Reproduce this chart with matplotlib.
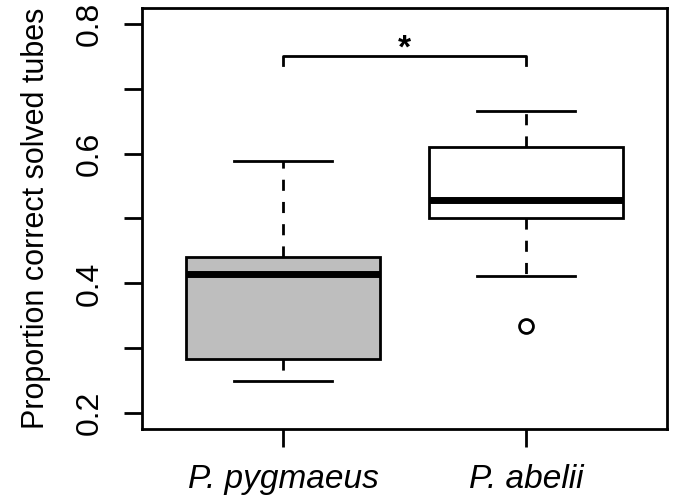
import matplotlib
matplotlib.use("Agg")
import matplotlib.pyplot as plt

plt.rcParams['font.family'] = ['Liberation Sans', 'DejaVu Sans']

species = ["P. pygmaeus", "P. abelii"]
whisker_lo = [0.25, 0.411]
q1 = [0.283, 0.50]
medians = [0.415, 0.529]
q3 = [0.44, 0.61]
whisker_hi = [0.588, 0.665]
outliers = [[], [0.334]]
box_colors = ["#BEBEBE", "white"]
bracket_y = 0.75
sig_label = "*"

stats = []
for i in range(len(species)):
    stats.append({
        "whislo": whisker_lo[i], "q1": q1[i], "med": medians[i],
        "q3": q3[i], "whishi": whisker_hi[i], "fliers": outliers[i],
    })

fig = plt.figure(figsize=(6.75, 4.99), dpi=100)
ax = fig.add_axes([0.2104, 0.1403, 0.7776, 0.8437])

bp = ax.bxp(stats, positions=[1, 2], widths=0.8, patch_artist=True,
            showfliers=True,
            boxprops=dict(linewidth=2, edgecolor="black"),
            medianprops=dict(linewidth=5, color="black", solid_capstyle="butt"),
            whiskerprops=dict(linewidth=2, linestyle=(0, (4, 4)), color="black"),
            capprops=dict(linewidth=2, color="black"),
            capwidths=0.4,
            flierprops=dict(marker="o", markersize=10, markerfacecolor="none",
                            markeredgecolor="black", markeredgewidth=2))
for patch, c in zip(bp["boxes"], box_colors):
    patch.set_facecolor(c)

# significance bracket
ax.plot([1, 1, 2, 2], [bracket_y - 0.013, bracket_y, bracket_y, bracket_y - 0.013],
        color="black", lw=2)
ax.text(1.5, bracket_y - 0.012, sig_label, ha="center", va="bottom", fontsize=24,
        fontweight="bold")

ax.set_xlim(0.42, 2.58)
ax.set_ylim(0.1754, 0.8246)
ax.set_yticks([0.2, 0.3, 0.4, 0.5, 0.6, 0.7, 0.8])
ax.set_yticklabels(["0.2", "", "0.4", "", "0.6", "", "0.8"], rotation=90, va="center")
ax.set_xticks([1, 2])
ax.set_xticklabels(species, fontstyle="italic", fontsize=24)
ax.tick_params(axis="y", labelsize=23, length=13, width=2, pad=14)
ax.tick_params(axis="x", length=13, width=2, pad=12)
for s in ax.spines.values():
    s.set_linewidth(2)
ax.set_ylabel("Proportion correct solved tubes", fontsize=22, labelpad=17)

fig.savefig("out.png", dpi=100)
